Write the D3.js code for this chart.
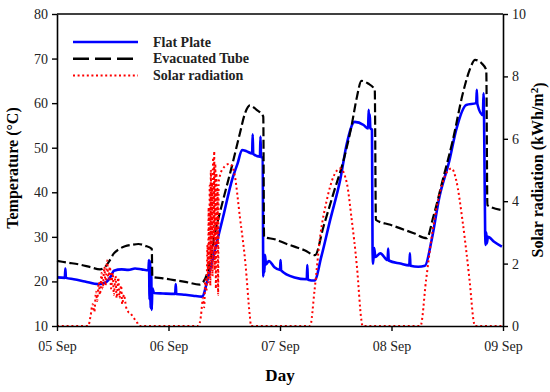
<!DOCTYPE html>
<html>
<head>
<meta charset="utf-8">
<script src="https://cdn.jsdelivr.net/npm/d3@7"></script>
<style>
  body { margin: 0; background: #fff; }
  svg { display: block; }
</style>
</head>
<body>
<svg id="chart" width="550" height="392"></svg>
<script>
// data: [day since 05 Sep 00:00, value]
let dayTicks = [0, 1, 2, 3, 4];
let dayLabels = ["05 Sep", "06 Sep", "07 Sep", "08 Sep", "09 Sep"];
let tempTicks = [10, 20, 30, 40, 50, 60, 70, 80];
let solarTicks = [0, 2, 4, 6, 8, 10];

let flatPlate = [
  [0, 20.9], [0.07, 20.8], [0.075, 22.9], [0.08, 20.8], [0.15, 20.5], [0.25, 20.0], [0.37, 19.4],
  [0.42, 19.6], [0.46, 20.3], [0.49, 21.5], [0.51, 22.4], [0.58, 22.7], [0.64, 22.6], [0.70, 22.9],
  [0.76, 22.7], [0.82, 22.5], [0.825, 24.8], [0.83, 16.0], [0.835, 24.5], [0.84, 14.0], [0.845, 22.0],
  [0.85, 13.6], [0.855, 18.5], [0.87, 17.4], [0.95, 17.3], [1.06, 17.2], [1.065, 19.4], [1.07, 17.2],
  [1.15, 17.0], [1.22, 16.8], [1.30, 16.6], [1.357, 21.1], [1.417, 27.1], [1.49, 34.5], [1.57, 42.8],
  [1.62, 46.5], [1.66, 49.5], [1.70, 49.2], [1.75, 48.7], [1.755, 53.0], [1.76, 48.6], [1.82, 48.0],
  [1.825, 52.5], [1.83, 47.9], [1.845, 47.8], [1.85, 21.1], [1.855, 25.5], [1.86, 22.0], [1.865, 26.0],
  [1.875, 23.8], [1.90, 24.6], [1.95, 23.2], [2.00, 22.6], [2.005, 24.8], [2.01, 22.5], [2.13, 20.9],
  [2.24, 20.5], [2.245, 23.7], [2.25, 20.4], [2.31, 20.2], [2.37, 25.5], [2.45, 33.8], [2.54, 42.8],
  [2.60, 51.0], [2.67, 55.8], [2.75, 55.1], [2.79, 54.3], [2.795, 58.5], [2.80, 55.5], [2.805, 57.5],
  [2.81, 54.4], [2.825, 54.0], [2.83, 27.1], [2.835, 24.0], [2.845, 27.5], [2.855, 25.5], [2.90, 26.3],
  [2.965, 24.8], [2.97, 27.4], [2.975, 24.7], [3.08, 24.0], [3.16, 23.6], [3.165, 26.3], [3.17, 23.5],
  [3.24, 23.3], [3.30, 23.5], [3.36, 29.3], [3.43, 39.0], [3.52, 47.2], [3.58, 54.0], [3.67, 59.6],
  [3.76, 60.0], [3.765, 63.0], [3.77, 59.8], [3.82, 57.3], [3.825, 62.2], [3.83, 57.2], [3.84, 30.8],
  [3.845, 28.2], [3.85, 31.0], [3.855, 28.5], [3.865, 30.0], [3.92, 28.9], [3.99, 27.8]
];

let evacuatedTube = [
  [0, 24.6], [0.10, 24.2], [0.20, 23.8], [0.30, 23.2], [0.386, 22.7], [0.43, 23.2], [0.47, 24.6],
  [0.51, 26.3], [0.56, 27.3], [0.61, 27.9], [0.67, 28.2], [0.73, 28.4], [0.79, 28.0], [0.85, 27.3],
  [0.855, 21.0], [0.95, 20.7], [1.05, 20.3], [1.15, 19.9], [1.28, 19.3], [1.31, 19.8], [1.357, 22.6],
  [1.417, 30.8], [1.49, 38.3], [1.567, 45.7], [1.64, 53.2], [1.686, 57.7], [1.73, 59.5], [1.79, 58.5],
  [1.85, 57.0], [1.857, 30.0], [1.96, 29.4], [2.05, 28.5], [2.13, 27.8], [2.22, 27.0], [2.314, 25.9],
  [2.39, 32.3], [2.48, 39.8], [2.57, 47.2], [2.64, 54.7], [2.69, 61.4], [2.73, 65.0], [2.79, 64.4],
  [2.85, 63.0], [2.86, 33.8], [2.99, 32.7], [3.08, 31.9], [3.20, 30.8], [3.316, 29.7], [3.375, 34.5],
  [3.46, 42.8], [3.55, 51.7], [3.64, 62.2], [3.70, 67.4], [3.75, 69.7], [3.81, 68.9], [3.85, 67.4],
  [3.86, 37.1], [3.99, 36.0]
];

let solarRadiation = [
  [0, 0], [0.28, 0], [0.30, 0.3], [0.32, 0.7], [0.335, 0.45], [0.35, 1.1], [0.36, 0.8], [0.375, 1.4],
  [0.385, 1.0], [0.40, 1.7], [0.41, 1.2], [0.425, 1.9], [0.435, 1.3], [0.45, 2.1], [0.46, 1.5],
  [0.475, 1.9], [0.485, 1.2], [0.50, 1.7], [0.51, 1.0], [0.525, 1.6], [0.535, 0.9], [0.55, 1.55],
  [0.56, 0.9], [0.575, 1.3], [0.585, 0.7], [0.60, 1.0], [0.62, 0.6], [0.64, 0.45], [0.66, 0.4],
  [0.68, 0.3], [0.70, 0.2], [0.72, 0.1], [0.74, 0], [1.27, 0], [1.29, 0.3], [1.31, 0.9], [1.32, 0.6],
  [1.33, 1.5], [1.34, 1.1], [1.35, 2.6], [1.355, 1.4], [1.36, 3.8], [1.365, 1.9], [1.37, 4.5],
  [1.375, 1.3], [1.38, 5.0], [1.385, 2.3], [1.39, 4.6], [1.395, 1.6], [1.40, 5.4], [1.405, 2.8],
  [1.41, 5.6], [1.415, 1.8], [1.42, 5.2], [1.425, 1.2], [1.43, 4.9], [1.435, 2.6], [1.44, 4.4],
  [1.445, 1.0], [1.45, 4.6], [1.46, 4.8], [1.50, 5.1], [1.55, 5.2], [1.59, 4.9], [1.64, 3.5],
  [1.69, 2.0], [1.73, 0.3], [1.74, 0], [2.27, 0], [2.31, 1.15], [2.36, 2.86], [2.42, 4.04],
  [2.48, 4.79], [2.54, 5.05], [2.60, 4.57], [2.64, 3.5], [2.69, 1.9], [2.73, 0.19], [2.74, 0],
  [3.26, 0], [3.31, 1.47], [3.37, 3.08], [3.44, 4.36], [3.50, 4.95], [3.54, 5.05], [3.58, 4.68],
  [3.64, 3.29], [3.70, 1.47], [3.74, 0.09], [3.75, 0], [4, 0]
];

let seriesNames = ["Flat Plate", "Evacuated Tube", "Solar radiation"];

let plotLeft = 57, plotRight = 503, plotTop = 14, plotBottom = 326;
let serif = "'Liberation Serif', serif";

let svg = d3.select("#chart");

let x = d3.scaleLinear().domain([0, 4]).range([plotLeft, plotRight]);
let yT = d3.scaleLinear().domain([10, 80]).range([plotBottom, plotTop]);
let yS = d3.scaleLinear().domain([0, 10]).range([plotBottom, plotTop]);

// lines
let tempLine = d3.line()
  .x(function(d) { return x(d[0]); })
  .y(function(d) { return yT(d[1]); })
  .curve(d3.curveMonotoneX);
let solarLine = d3.line()
  .x(function(d) { return x(d[0]); })
  .y(function(d) { return yS(d[1]); })
  .curve(d3.curveMonotoneX);

svg.append("path")
  .datum(flatPlate)
  .attr("d", tempLine)
  .style("fill", "none")
  .style("stroke", "#0000ff")
  .style("stroke-width", 2.6)
  .style("stroke-linejoin", "round");

svg.append("path")
  .datum(evacuatedTube)
  .attr("d", tempLine)
  .style("fill", "none")
  .style("stroke", "#000")
  .style("stroke-width", 2.2)
  .style("stroke-dasharray", "9,3.5");

svg.append("path")
  .datum(solarRadiation)
  .attr("d", solarLine)
  .style("fill", "none")
  .style("stroke", "#ff0000")
  .style("stroke-width", 2)
  .style("stroke-dasharray", "2,2.8");

// axes
let xAxis = d3.axisBottom(x)
  .tickValues(dayTicks)
  .tickSize(5)
  .tickFormat(function(d, i) { return dayLabels[i]; });
let yAxisL = d3.axisLeft(yT).tickValues(tempTicks).tickSize(5);
let yAxisR = d3.axisRight(yS).tickValues(solarTicks).tickSize(5);

function styleAxis(g) {
  g.select(".domain").style("stroke", "#000").style("stroke-width", 1.6);
  g.selectAll(".tick line").style("stroke", "#000").style("stroke-width", 1.4);
  g.selectAll(".tick text")
    .style("font-family", serif)
    .style("font-size", "14px")
    .style("fill", "#222");
}

svg.append("g")
  .attr("transform", "translate(0," + plotBottom + ")")
  .call(xAxis.tickSizeOuter(0))
  .call(styleAxis)
  .selectAll(".tick text").attr("dy", "1.2em");

svg.append("g")
  .attr("transform", "translate(" + plotLeft + ",0)")
  .call(yAxisL.tickSizeOuter(0))
  .call(styleAxis)
  .selectAll(".tick text").attr("x", -9);

svg.append("g")
  .attr("transform", "translate(" + plotRight + ",0)")
  .call(yAxisR.tickSizeOuter(0))
  .call(styleAxis)
  .selectAll(".tick text").attr("x", 9);

// top border
svg.append("line")
  .attr("x1", plotLeft).attr("x2", plotRight)
  .attr("y1", plotTop).attr("y2", plotTop)
  .style("stroke", "#000")
  .style("stroke-width", 1.6);

// axis titles
svg.append("text")
  .attr("transform", "translate(18,168) rotate(-90)")
  .text("Temperature (°C)")
  .style("text-anchor", "middle")
  .style("font-family", serif)
  .style("font-weight", "bold")
  .style("font-size", "16px");

let rTitle = svg.append("text")
  .attr("transform", "translate(543,170) rotate(-90)")
  .style("text-anchor", "middle")
  .style("font-family", serif)
  .style("font-weight", "bold")
  .style("font-size", "16px");
rTitle.append("tspan").text("Solar radiation (kWh/m");
rTitle.append("tspan").text("2").attr("dy", "-0.45em").style("font-size", "11px");
rTitle.append("tspan").text(")").attr("dy", "0.45em");

svg.append("text")
  .attr("x", 280)
  .attr("y", 381)
  .text("Day")
  .style("text-anchor", "middle")
  .style("font-family", serif)
  .style("font-weight", "bold")
  .style("font-size", "17px");

// legend
let legendStyles = [
  { color: "#0000ff", width: 2.6, dash: null },
  { color: "#000", width: 2.4, dash: "16,6" },
  { color: "#ff0000", width: 2, dash: "2,2.6" }
];
let legend = svg.selectAll(".legendItem")
  .data(seriesNames)
  .enter()
  .append("g")
    .attr("transform", function(d, i) { return "translate(0," + (42 + i * 16.7) + ")"; });
legend.append("line")
  .attr("x1", 73).attr("x2", 138)
  .attr("y1", 0).attr("y2", 0)
  .style("stroke", function(d, i) { return legendStyles[i].color; })
  .style("stroke-width", function(d, i) { return legendStyles[i].width; })
  .style("stroke-dasharray", function(d, i) { return legendStyles[i].dash; });
legend.append("text")
  .attr("x", 153)
  .attr("y", 4.5)
  .text(function(d) { return d; })
  .style("font-family", serif)
  .style("font-weight", "bold")
  .style("font-size", "14px")
  .style("fill", "#222");
</script>
</body>
</html>
